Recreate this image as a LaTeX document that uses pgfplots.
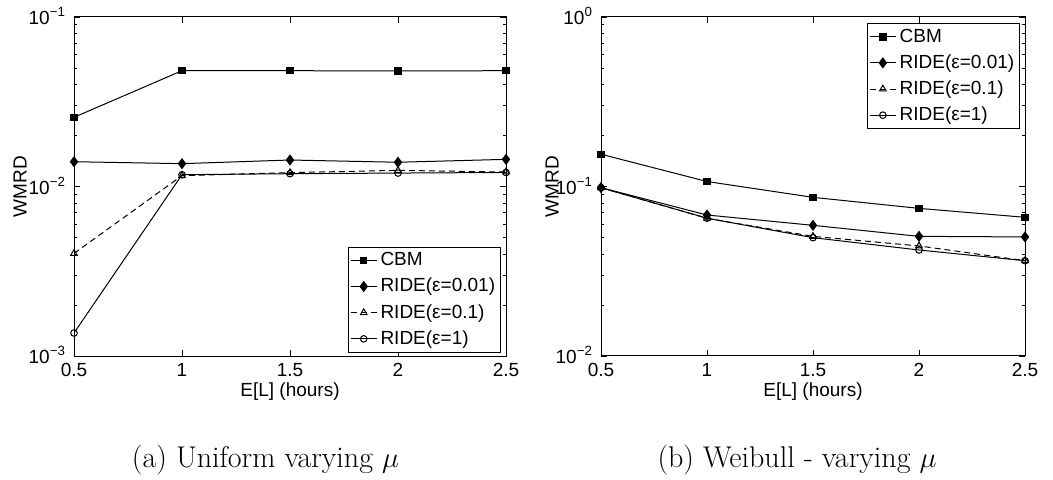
\documentclass[border=0pt]{standalone}
\usepackage{pgfplots}
\pgfplotsset{compat=1.18}
\usepackage{fontspec}
\newfontfamily\arial{Liberation Sans}
\newcommand{\af}{\arial\fontsize{9.5}{11}\selectfont}
\begin{document}
\begin{tikzpicture}
\path[use as bounding box] (0,0) rectangle (526.5pt,240pt);
\pgfplotsset{
  every axis/.append style={
    scale only axis,
    ymode=log,
    xmin=0.5, xmax=2.5,
    xtick={0.5,1,1.5,2,2.5},
    xticklabels={0.5,1,1.5,2,2.5},
    tick label style={font=\af},
    label style={font=\af},
    yticklabel style={anchor=base east, yshift=-3.8pt, xshift=-0.5pt},
    xticklabel style={anchor=base, yshift=-10.3pt, inner sep=0pt},
    major tick length=3pt,
    minor tick length=1.5pt,
    tick style={black, line width=0.4pt},
    axis line style={line width=0.5pt},
    xlabel={E[L] (hours)},
    ylabel={WMRD},
    legend cell align=left,
    legend style={font=\af, draw=black, line width=0.5pt, inner sep=1pt,
      row sep=1.5pt, nodes={inner sep=1.6pt}},
    legend image code/.code={\draw[mark repeat=2,mark phase=2] plot coordinates {(0cm,0cm) (0.23cm,0cm) (0.46cm,0cm)};},
  },
  cbm/.style={black, line width=0.5pt, mark=square*, mark size=1.6pt, mark options={solid, fill=black}},
  r1/.style={black, line width=0.5pt, mark=diamond*, mark size=2.4pt, mark options={solid, fill=black}},
  r2/.style={black, line width=0.5pt, dashed, dash pattern=on 3pt off 2pt, mark=triangle, mark size=1.9pt, mark options={solid}},
  r3/.style={black, line width=0.5pt, mark=o, mark size=1.65pt, mark options={solid}},
}
% ---------------- left ----------------
\begin{axis}[
  at={(37pt,62pt)}, anchor=south west,
  width=216pt, height=169.5pt,
  ymin=1e-3, ymax=1e-1,
  ytick={1e-3,1e-2,1e-1},
  yticklabels={10\textsuperscript{−3},10\textsuperscript{−2},10\textsuperscript{−1}},
  ylabel style={at={(axis description cs:-0.125,0.5)}, anchor=center},
  xlabel style={at={(axis description cs:0.5,-0.119)}, anchor=base, inner sep=0pt},
  legend style={at={(axis description cs:0.988,0.009)}, anchor=south east},
]
\addplot[cbm] coordinates {(0.5,0.0256) (1,0.0482) (1.5,0.0482) (2,0.0481) (2.5,0.0482)};
\addplot[r1] coordinates {(0.5,0.0140) (1,0.01364) (1.5,0.01433) (2,0.0139) (2.5,0.01446)};
\addplot[r2] coordinates {(0.5,0.00403) (1,0.01159) (1.5,0.01207) (2,0.01245) (2.5,0.01217)};
\addplot[r3] coordinates {(0.5,0.001367) (1,0.01174) (1.5,0.0119) (2,0.0120) (2.5,0.0121)};
\legend{CBM,RIDE(ε=0.01),RIDE(ε=0.1),RIDE(ε=1)}
\end{axis}
% ---------------- right ----------------
\begin{axis}[
  at={(300.5pt,62pt)}, anchor=south west,
  width=212pt, height=169.5pt,
  ymin=1e-2, ymax=1,
  ytick={1e-2,1e-1,1},
  yticklabels={10\textsuperscript{−2},10\textsuperscript{−1},10\textsuperscript{0}},
  ylabel style={at={(axis description cs:-0.1156,0.5)}, anchor=center},
  xlabel style={at={(axis description cs:0.5,-0.119)}, anchor=base, inner sep=0pt},
  legend style={at={(axis description cs:0.988,0.982)}, anchor=north east},
]
\addplot[cbm] coordinates {(0.5,0.155) (1,0.107) (1.5,0.0863) (2,0.0743) (2.5,0.0658)};
\addplot[r1] coordinates {(0.5,0.0984) (1,0.0679) (1.5,0.059) (2,0.0508) (2.5,0.0504)};
\addplot[r2] coordinates {(0.5,0.0984) (1,0.0649) (1.5,0.0508) (2,0.0446) (2.5,0.0365)};
\addplot[r3] coordinates {(0.5,0.0984) (1,0.065) (1.5,0.0499) (2,0.0422) (2.5,0.0365)};
\legend{CBM,RIDE(ε=0.01),RIDE(ε=0.1),RIDE(ε=1)}
\end{axis}
\node at (132.75pt,10pt) {\fontsize{15}{18}\selectfont (a) Uniform varying $\mu$};
\node at (398.5pt,10pt) {\fontsize{15}{18}\selectfont (b) Weibull - varying $\mu$};
\end{tikzpicture}
\end{document}
